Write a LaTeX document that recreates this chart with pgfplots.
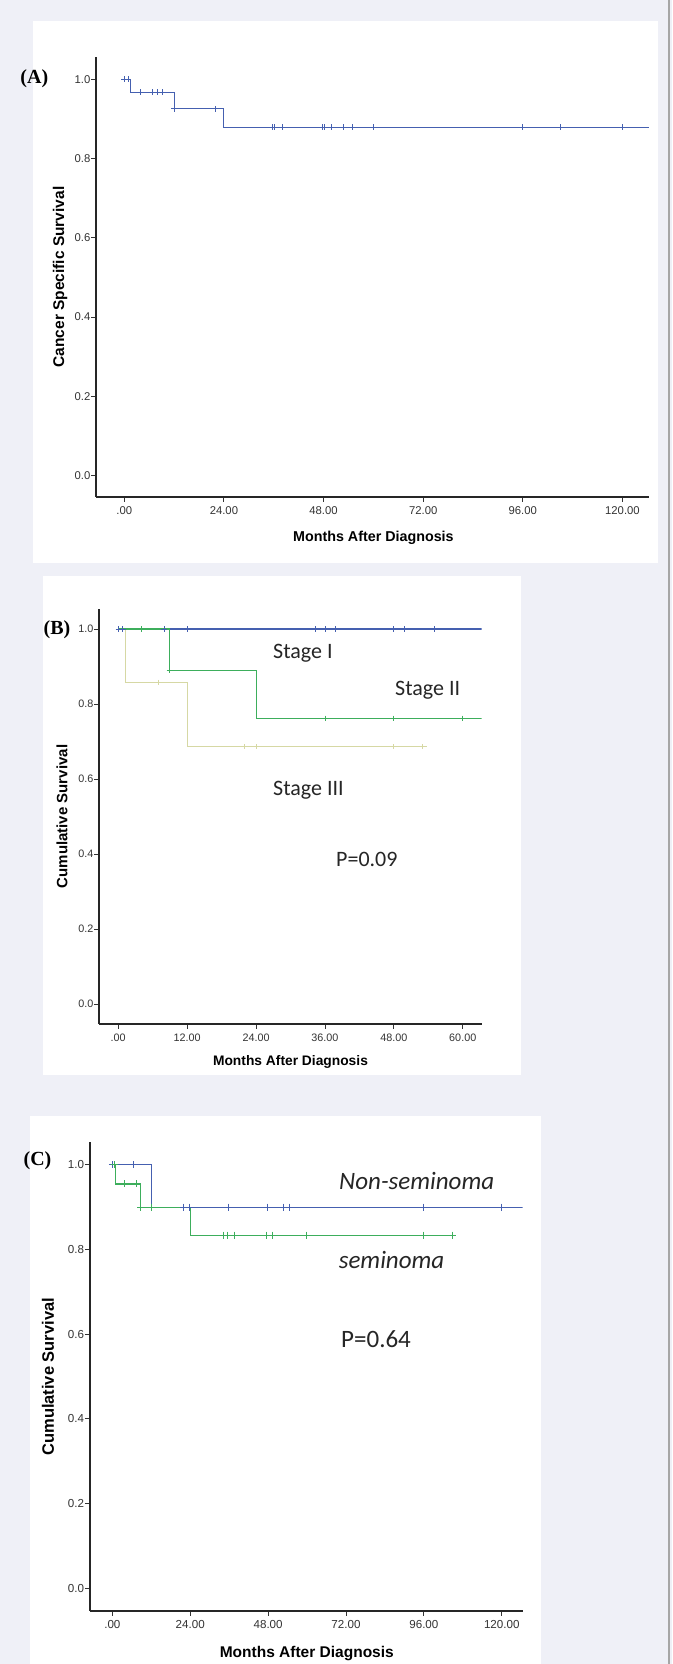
\documentclass[border=0pt]{standalone}
\usepackage{fontspec}
\setmainfont{Liberation Sans}
\newfontfamily\calfont{Carlito}
\newfontfamily\serfont{Liberation Serif}
\usepackage{pgfplots}
\pgfplotsset{compat=1.18}
\definecolor{bg}{HTML}{EFF0F7}
\definecolor{kmblue}{HTML}{4560B0}
\definecolor{kmgreen}{HTML}{3DAE5C}
\definecolor{kmpale}{HTML}{D6D8A4}
\pgfplotsset{kmaxis/.style={
  scale only axis, axis lines=left,
  axis line style={-, line width=1.9pt, black!85},
  tick align=outside, major tick length=5pt,
  tick style={line width=0.9pt, black!80},
  ticklabel style={text=black!80},
  ytick={0,0.2,0.4,0.6,0.8,1},
  yticklabels={0.0,0.2,0.4,0.6,0.8,1.0},
  xticklabel style={yshift=-1pt},
  yticklabel style={xshift=2.5pt},
}}
\begin{document}
\begin{tikzpicture}
\path[use as bounding box] (0pt,0pt) rectangle (672pt,1664pt);
\fill[bg] (0pt,0pt) rectangle (672pt,1664pt);
\draw[gray!70, line width=1.2pt] (669pt,0pt) -- (669pt,1664pt);
% panel backgrounds
\fill[white] (33.3pt,1101.3pt) rectangle (658pt,1643pt);
\fill[white] (42.7pt,589.3pt) rectangle (520.7pt,1088pt);
\fill[white] (30pt,0pt) rectangle (541pt,548pt);

% ---------------- Panel A ----------------
\begin{axis}[kmaxis, at={(96.4pt,1167pt)}, anchor=south west,
  width=552.6pt, height=440pt,
  xmin=-6.72, xmax=126.4, ymin=-0.054, ymax=1.056,
  xtick={0,24,48,72,96,120},
  xticklabels={.00,24.00,48.00,72.00,96.00,120.00},
  ticklabel style={font=\fontsize{11.3}{13}\selectfont}]
\addplot[kmblue, line width=1.1pt, const plot] coordinates {
 (0,1) (1.4,0.967) (12,0.925) (24,0.879) (126.4,0.879)};
\addplot[kmblue, only marks, mark=+, mark size=2.9pt, mark options={line width=1pt}] coordinates {
 (0,1) (1,1)
 (3.9,0.967) (6.9,0.967) (8.0,0.967) (9.1,0.967)
 (12,0.925) (22,0.925)
 (35.8,0.879) (36.3,0.879) (38,0.879) (47.8,0.879) (48.3,0.879) (50,0.879)
 (52.9,0.879) (55,0.879) (60,0.879) (96,0.879) (105,0.879) (120,0.879)};
\end{axis}
\node[font=\bfseries\fontsize{14.3}{16}\selectfont] at (373.4pt,1126.5pt) {Months After Diagnosis};
\node[font=\bfseries\fontsize{15.5}{17}\selectfont, rotate=90] at (60pt,1387pt) {Cancer Specific Survival};
\node[font=\serfont\bfseries\fontsize{20}{22}\selectfont] at (34.3pt,1585pt) {(A)};

% ---------------- Panel B ----------------
\begin{axis}[kmaxis, at={(99.3pt,640pt)}, anchor=south west,
  width=382.4pt, height=414.7pt,
  xmin=-3.3, xmax=63.3, ymin=-0.053, ymax=1.0525,
  xtick={0,12,24,36,48,60},
  xticklabels={.00,12.00,24.00,36.00,48.00,60.00},
  ticklabel style={font=\fontsize{10.8}{12}\selectfont}]
\addplot[kmblue, line width=1.1pt, const plot] coordinates {(0,1) (63.3,1)};
\addplot[kmpale, line width=1.1pt, const plot] coordinates {
 (0,1) (1.2,0.857) (12,0.686) (53.7,0.686)};
\addplot[kmgreen, line width=1.1pt, const plot] coordinates {
 (0,1) (8.9,0.889) (24,0.762) (63.3,0.762)};
\addplot[kmblue, only marks, mark=+, mark size=2.7pt, mark options={line width=0.9pt}] coordinates {
 (0,1) (0.8,1) (8.0,1) (12,1) (34.4,1) (36,1) (37.9,1) (47.9,1) (49.8,1) (55,1)};
\addplot[kmpale, only marks, mark=+, mark size=2.7pt, mark options={line width=0.9pt}] coordinates {
 (7,0.857) (22,0.686) (24,0.686) (48,0.686) (53,0.686)};
\addplot[kmgreen, only marks, mark=+, mark size=2.7pt, mark options={line width=0.9pt}] coordinates {
 (4.1,1) (8.9,0.889) (36,0.762) (47.9,0.762) (59.9,0.762)};
\end{axis}
\node[font=\bfseries\fontsize{13.8}{16}\selectfont] at (290.5pt,602pt) {Months After Diagnosis};
\node[font=\bfseries\fontsize{15}{17}\selectfont, rotate=90] at (62pt,847.5pt) {Cumulative Survival};
\node[font=\serfont\bfseries\fontsize{20}{22}\selectfont] at (57pt,1034.7pt) {(B)};
\node[font=\calfont\fontsize{22}{26}\selectfont, anchor=west, inner sep=0pt, text=black!85] at (273pt,1011pt) {Stage I};
\node[font=\calfont\fontsize{22}{26}\selectfont, anchor=west, inner sep=0pt, text=black!85] at (395pt,973.3pt) {Stage II};
\node[font=\calfont\fontsize{22}{26}\selectfont, anchor=west, inner sep=0pt, text=black!85] at (273pt,873.3pt) {Stage III};
\node[font=\calfont\fontsize{22}{26}\selectfont, anchor=west, inner sep=0pt, text=black!85] at (336pt,805pt) {P=0.09};

% ---------------- Panel C ----------------
\begin{axis}[kmaxis, at={(90pt,53pt)}, anchor=south west,
  width=432.5pt, height=468.5pt,
  xmin=-6.9, xmax=126.4, ymin=-0.054, ymax=1.053,
  xtick={0,24,48,72,96,120},
  xticklabels={.00,24.00,48.00,72.00,96.00,120.00},
  ticklabel style={font=\fontsize{11.6}{13}\selectfont}]
\addplot[kmblue, line width=1.1pt, const plot] coordinates {
 (0,1) (12,0.9) (126.4,0.9)};
\addplot[kmgreen, line width=1.1pt, const plot] coordinates {
 (0,1) (1,0.955) (8.8,0.9) (24,0.834) (106,0.834)};
\addplot[kmblue, only marks, mark=+, mark size=3.5pt, mark options={line width=0.9pt}] coordinates {
 (0,1) (6.6,1) (22,0.9) (23.7,0.9) (35.8,0.9) (47.9,0.9) (52.8,0.9) (54.5,0.9) (96,0.9) (120,0.9)};
\addplot[kmgreen, only marks, mark=+, mark size=3.5pt, mark options={line width=0.9pt}] coordinates {
 (0.5,1) (3.6,0.955) (7.5,0.955) (8.8,0.9) (12,0.9)
 (34.2,0.834) (35.5,0.834) (37.6,0.834) (47.6,0.834) (49.4,0.834) (59.8,0.834) (96,0.834) (104.9,0.834)};
\end{axis}
\node[font=\bfseries\fontsize{15.5}{17}\selectfont] at (306.8pt,10pt) {Months After Diagnosis};
\node[font=\bfseries\fontsize{16.5}{18}\selectfont, rotate=90] at (48pt,287.2pt) {Cumulative Survival};
\node[font=\serfont\bfseries\fontsize{20}{22}\selectfont] at (37.5pt,503pt) {(C)};
\node[font=\calfont\itshape\fontsize{25}{29}\selectfont, anchor=west, inner sep=0pt, text=black!85] at (339pt,483.3pt) {Non-seminoma};
\node[font=\calfont\itshape\fontsize{25}{29}\selectfont, anchor=west, inner sep=0pt, text=black!85] at (338.6pt,404pt) {seminoma};
\node[font=\calfont\fontsize{25}{29}\selectfont, anchor=west, inner sep=0pt, text=black!85] at (341pt,325pt) {P=0.64};
\end{tikzpicture}
\end{document}
